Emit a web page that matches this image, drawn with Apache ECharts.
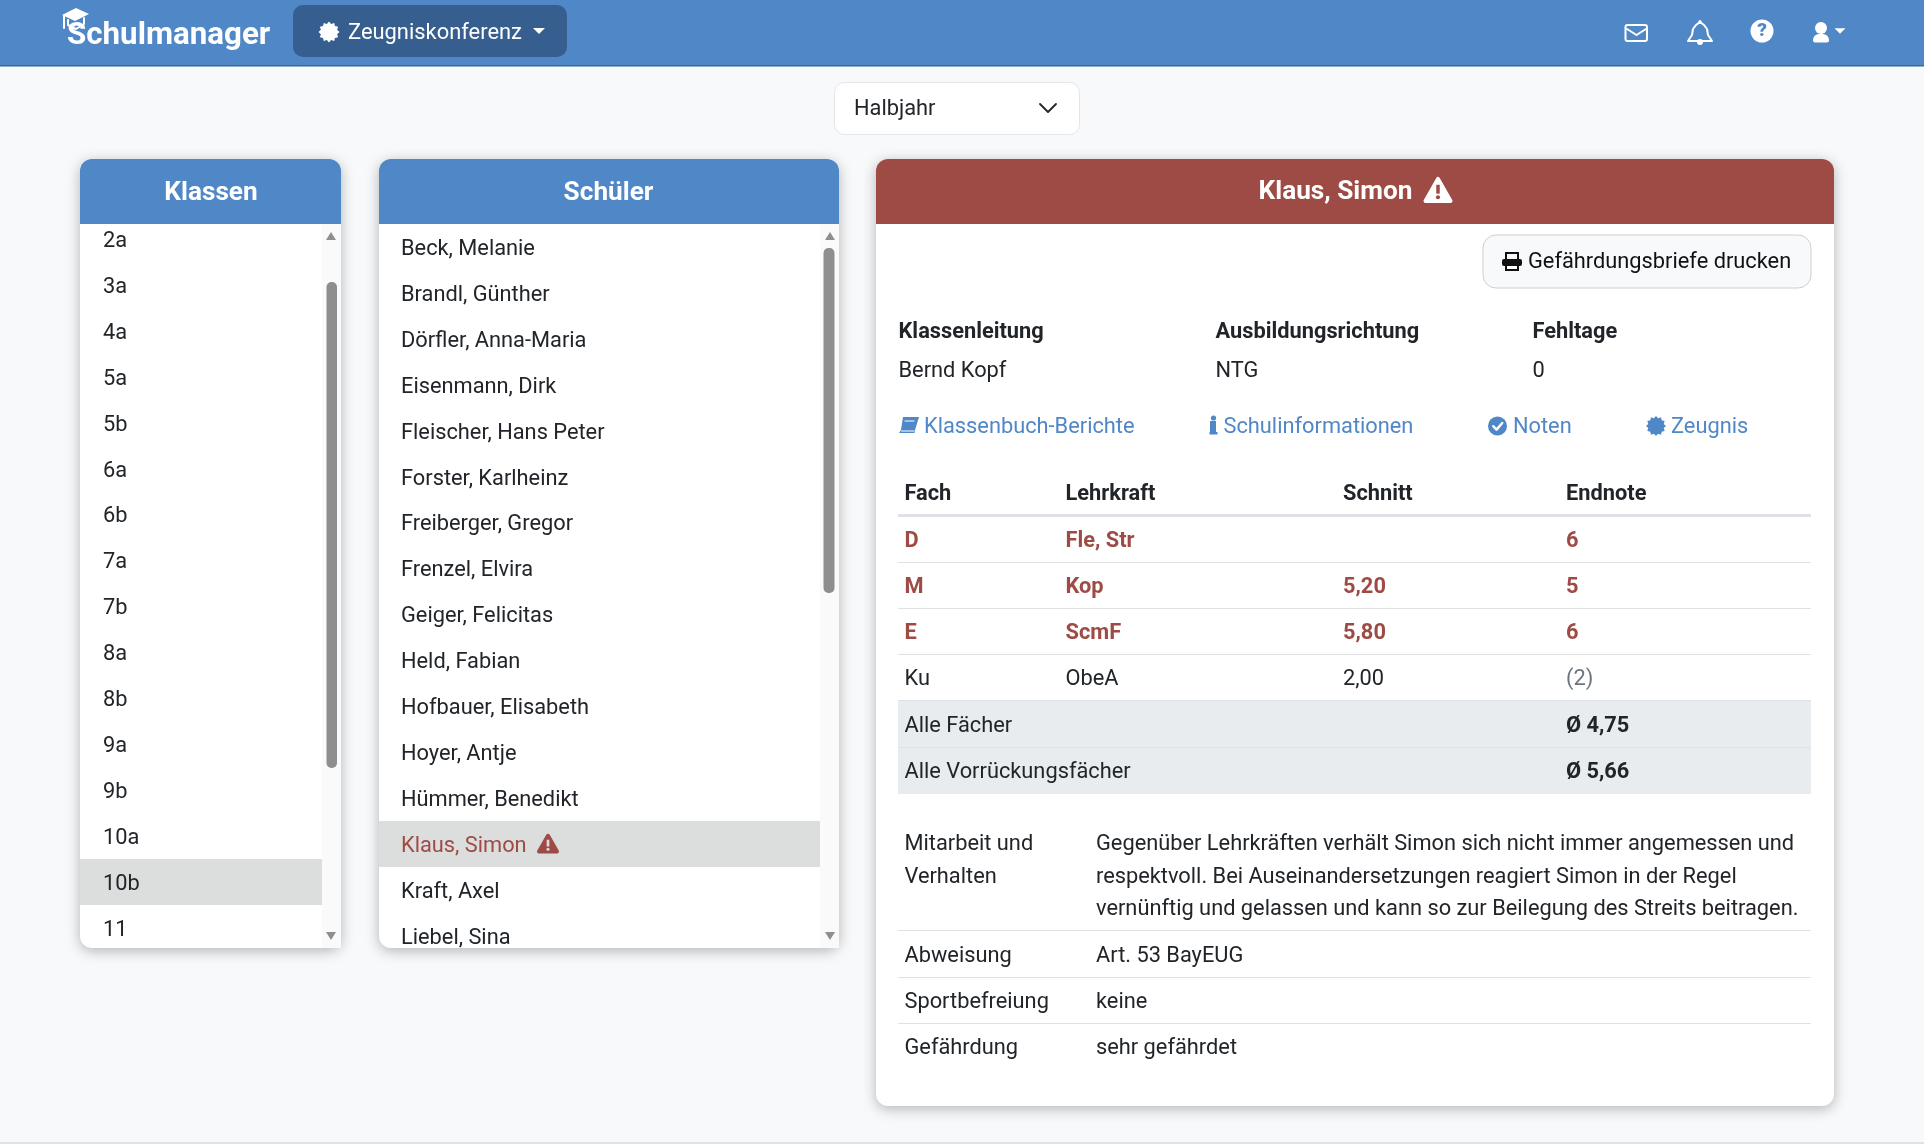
<!DOCTYPE html>
<html><head><meta charset="utf-8">
<style>html,body{margin:0;padding:0;background:#f8f9fa}#c{width:1924px;height:1144px}</style>
<script src="https://cdn.jsdelivr.net/npm/echarts@6/dist/echarts.min.js"></script>
</head><body><div id="c"></div>
<script>
const brandName = 'Schulmanager';
const menuLabel = 'Zeugniskonferenz';
const periodLabel = 'Halbjahr';
const classList = ['2a','3a','4a','5a','5b','6a','6b','7a','7b','8a','8b','9a','9b','10a','10b','11'];
const studentList = ['Beck, Melanie','Brandl, Günther','Dörfler, Anna-Maria','Eisenmann, Dirk','Fleischer, Hans Peter','Forster, Karlheinz','Freiberger, Gregor','Frenzel, Elvira','Geiger, Felicitas','Held, Fabian','Hofbauer, Elisabeth','Hoyer, Antje','Hümmer, Benedikt','Klaus, Simon','Kraft, Axel','Liebel, Sina'];
const selectedClass = '10b';
const selectedStudent = 'Klaus, Simon';
const infoHeads = ['Klassenleitung','Ausbildungsrichtung','Fehltage'];
const infoValues = ['Bernd Kopf','NTG','0'];
const linkLabels = ['Klassenbuch-Berichte','Schulinformationen','Noten','Zeugnis'];
const tableHeads = ['Fach','Lehrkraft','Schnitt','Endnote'];
const subjects = ['D','M','E','Ku'];
const teachers = ['Fle, Str','Kop','ScmF','ObeA'];
const averages = ['','5,20','5,80','2,00'];
const finals = ['6','5','6','(2)'];
const atRisk = [true,true,true,false];
const summaryLabels = ['Alle Fächer','Alle Vorrückungsfächer'];
const summaryValues = ['Ø 4,75','Ø 5,66'];
const remarkLabels = ['Abweisung','Sportbefreiung','Gefährdung'];
const remarkValues = ['Art. 53 BayEUG','keine','sehr gefährdet'];
const conductLabel = ['Mitarbeit und','Verhalten'];
const conductText = ['Gegenüber Lehrkräften verhält Simon sich nicht immer angemessen und','respektvoll. Bei Auseinandersetzungen reagiert Simon in der Regel','vernünftig und gelassen und kann so zur Beilegung des Streits beitragen.'];

const BLUE='#5087c7', RED='#9e4b45', INK='#212529', LINE='#dee2e6';
const FS=21.8, FF='Roboto', DY=2.4;
const els=[];
function T(s,x,y,o={}){els.push({type:'text',silent:true,style:{text:s,x:x,y:y+DY,fill:o.c||INK,fontFamily:FF,fontSize:o.s||FS,fontWeight:o.w||400,
  textAlign:o.a||'left',align:o.a||'left',textVerticalAlign:'middle',verticalAlign:'middle'}});}
function R(x,y,w,h,fill,o={}){els.push({type:'rect',silent:true,shape:{x,y,width:w,height:h,r:o.r||0},style:Object.assign({fill:fill},o.st||{})});}
function P(pts,fill,o={}){els.push({type:'polygon',silent:true,shape:{points:pts},style:Object.assign({fill:fill},o)});}
function L(pts,c,w){els.push({type:'polyline',silent:true,shape:{points:pts},style:{fill:'none',stroke:c,lineWidth:w,lineJoin:'round',lineCap:'round'}});}
function C(x,y,r,fill,o={}){els.push({type:'circle',silent:true,shape:{cx:x,cy:y,r},style:Object.assign({fill:fill},o)});}
function caret(x,y,w,c){P([[x-w/2,y-w/4],[x+w/2,y-w/4],[x,y+w/4]],c);}
function burst(x,y,r,c){const p=[];for(let i=0;i<24;i++){const a=i*Math.PI/12,q=i%2?r*0.8:r;p.push([x+q*Math.cos(a),y+q*Math.sin(a)]);}P(p,c);}
function warn(x,y,w,c,b){const h=w*0.9,l=x-w/2,t=y-h/2;
  P([[x,t+2],[l+w-2,t+h-2],[l+2,t+h-2]],c,{stroke:c,lineWidth:4,lineJoin:'round'});
  R(x-w*0.06,t+h*0.3,w*0.12,h*0.34,b);C(x,t+h*0.78,w*0.07,b);}
function check(x,y,r,c){C(x,y,r,c);L([[x-r*.45,y+r*.02],[x-r*.1,y+r*.38],[x+r*.5,y-r*.32]],'#fff',2.4);}
function card(x,y,w,h,head,title,titleX){
  R(x,y,w,h,'#fff',{r:12,st:{shadowBlur:14,shadowColor:'rgba(0,0,0,0.28)',shadowOffsetY:3}});
  R(x,y,w,65,head,{r:[12,12,0,0]});
  if(title)T(title,titleX,y+32,{c:'#fff',s:26.2,w:700,a:'center'});
}
function scrollTrack(x,y0,y1,tx,tw,t0,t1,ax){
  R(x,y0,19,y1-y0,'#fafafa');
  R(tx,t0,tw,t1-t0,'#8e8e8e',{r:5});
  P([[ax-5,240],[ax+5,240],[ax,232]],'#8e8e8e');
  P([[ax-5,932],[ax+5,932],[ax,940]],'#8e8e8e');
}

/* navbar */
R(0,0,1924,65,BLUE); R(0,65,1924,1.5,'#3a6899');
T(brandName,67,34,{c:'#fff',s:31.3,w:700});
P([[62,15],[76,8],[89,14],[75,21]],'#fff');
L([[68,20],[68,25],[76,29],[84,24],[84,18]],'#fff',2);L([[64,16],[64,28]],'#fff',2);
R(293,5,274,52,'#365f8f',{r:10});
burst(329,32,10.5,'#fff');
T(menuLabel,348,31.2,{c:'#fff',s:21.9});
caret(539,31,12,'#fff');
/* right icons */
R(1625.5,25,21.5,16,'none',{r:2,st:{stroke:'#fff',lineWidth:2}});
L([[1627,29],[1636.5,35],[1646,29]],'#fff',2);
P([[1700,22],[1704,25],[1707,29],[1708,35],[1710,38],[1712,41],[1688,41],[1690,38],[1692,35],[1693,29],[1696,25]],'none',{stroke:'#fff',lineWidth:2,lineJoin:'round'});
C(1700,21.5,1.6,'#fff');
C(1700,42,3,'#fff');
C(1762,31,11.5,'#fff');
T('?',1762,29,{c:BLUE,s:19,w:900,a:'center'});
C(1821,28,6,'#fff');
R(1813,34,16,8.5,'#fff',{r:[6,6,2,2]});
caret(1840,31,11,'#fff');

/* period select */
R(834.5,82.5,245,52,'#fff',{r:10,st:{stroke:'#e4e6e9',lineWidth:1}});
T(periodLabel,854,107.2);
L([[1040,104],[1048,112],[1056,104]],INK,1.8);

/* class card */
card(80,159,261,789,BLUE,'Klassen',211);
classList.forEach((s,i)=>{const y=239+i*45.9;
  if(s===selectedClass)R(80,y-22.6,242,46,'#dcdddd');
  T(s,103,y+0.2);});
scrollTrack(322,224,948,326.5,10.5,282,768,331);

/* student card */
card(379,159,460,789,BLUE,'Schüler',608.5);
studentList.forEach((s,i)=>{const y=247+i*45.9;
  const on=s===selectedStudent;
  if(on)R(379,y-22.6,441,46,'#dcdddd');
  T(s,401,y+0.2,{c:on?RED:INK});
  if(on)warn(548,y,22,RED,'#dcdddd');});
scrollTrack(820,224,948,823.5,11,248,593,830);

/* detail card */
card(876,159,958,947,RED,null,0);
T(selectedStudent,1335.5,190.4,{c:'#fff',s:26.2,w:700,a:'center'});
warn(1438,190,29,'#fff',RED);
R(1483,235,328,53,'#f8f9fa',{r:13,st:{stroke:'#ccd0d5',lineWidth:1}});
R(1506,253,12,8,'none',{st:{stroke:'#111',lineWidth:2}});
R(1502,259,20,7,'#111',{r:2});
R(1506,265,12,5,'#fff',{st:{stroke:'#111',lineWidth:2}});
T('Gefährdungsbriefe drucken',1528,260.2,{c:'#111'});
const infoX=[898.5,1215.5,1532.5];
infoHeads.forEach((s,i)=>{T(s,infoX[i],330.4,{w:700});T(infoValues[i],infoX[i],369.4);});
/* links */
const linkX=[924,1223.5,1513,1671];
linkLabels.forEach((s,i)=>T(s,linkX[i],425.2,{c:BLUE}));
P([[903,417],[919,417],[915,430],[901,430]],BLUE);
P([[901,430],[915,430],[914.5,433],[899,433]],BLUE);
L([[901.5,431],[914,431]],'#fff',1);
L([[905,421],[914,421]],'#fff',1);
R(1210,421,6,13,BLUE);R(1209.5,432,8,2.5,BLUE);C(1213.5,418,2.6,BLUE);
check(1497.5,426,9.5,BLUE);
burst(1656,426,10,BLUE);
/* table */
const colX=[904.5,1065.5,1343,1566];
tableHeads.forEach((s,i)=>T(s,colX[i],491.9,{w:700}));
R(898,514,913,3,LINE);
subjects.forEach((s,i)=>{const y=539.4+i*46,r=atRisk[i],o={c:r?RED:INK,w:r?700:400};
  T(s,colX[0],y,o);T(teachers[i],colX[1],y,o);T(averages[i],colX[2],y,o);
  T(finals[i],colX[3],y,r?o:{c:'#6c757d'});
  if(i<3)R(898,562+i*46,913,1,LINE);});
R(898,701,913,93,'#e9ecef');
R(898,700,913,1,LINE);R(898,747,913,1,LINE);
summaryLabels.forEach((s,i)=>{const y=724+i*46;T(s,colX[0],y);T(summaryValues[i],colX[3],y,{w:700});});
/* conduct */
conductLabel.forEach((s,i)=>T(s,904.5,842.4+i*33));
conductText.forEach((s,i)=>T(s,1096,842.4+i*32.5));
R(898,930,913,1,LINE);
remarkLabels.forEach((s,i)=>{const y=954+i*46;T(s,904.5,y);T(remarkValues[i],1096,y);
  if(i<2)R(898,977+i*46,913,1,LINE);});
/* footer */
R(0,1142,1924,2,LINE);

const chart=echarts.init(document.getElementById('c'),null,{renderer:'canvas',width:1924,height:1144});
chart.setOption({backgroundColor:'#f8f9fa',animation:false,graphic:{elements:els}});
</script></body></html>
